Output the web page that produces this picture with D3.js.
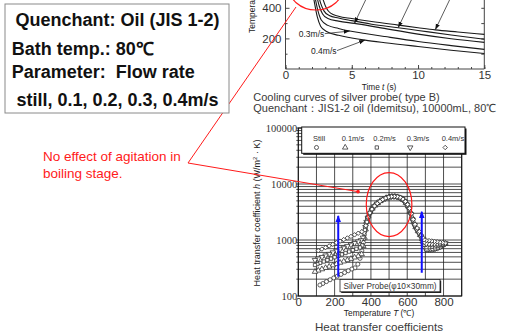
<!DOCTYPE html>
<html><head><meta charset="utf-8">
<script src="https://cdn.jsdelivr.net/npm/d3@7"></script>
<style>
body{margin:0;background:#fff;}
svg{display:block;font-family:"Liberation Sans",Arial,sans-serif;}
</style></head><body>
<svg id="c" width="519" height="333"></svg>
<script>
// ---------- DATA ----------
const flowRates = ["Still", "0.1m/s", "0.2m/s", "0.3m/s", "0.4m/s"];
const timeTicks = [0, 5, 10, 15];
const tempTicksTop = [200, 400];
const tempTicksBottom = [0, 200, 400, 600, 800];
const htcTicks = [100, 1000, 10000, 100000];

// cooling curves [time s, temperature C]
const coolStill = [[0,845],[1,838],[1.7,790],[2.2,680],[2.55,550],[2.85,450],[3.1,395],[3.4,365],[4,345],[5,330],[6.5,310],[8.5,287],[10,270],[11.3,256],[13,242],[15,226]];
const cool01 = [[0,845],[1,835],[1.6,780],[2.05,660],[2.4,520],[2.65,430],[2.9,380],[3.3,350],[4,333],[5,316],[6.5,293],[8.5,270],[10,252],[12.5,222],[15,194]];
const cool02 = [[0,845],[1,830],[1.5,770],[1.95,640],[2.3,500],[2.55,410],[2.8,360],[3.2,330],[4,313],[5.2,298],[7,272],[10,228],[12.5,198],[15,174]];
const cool03 = [[0,845],[1,825],[1.45,760],[1.9,620],[2.2,480],[2.45,380],[2.7,320],[3.2,285],[4,265],[4.85,248],[6,232],[7.5,212],[10,180],[12.5,153],[15,128]];
const cool04 = [[0,845],[1,820],[1.4,750],[1.85,600],[2.15,450],[2.4,340],[2.65,280],[3.1,245],[4,220],[5,203],[6,189],[7.5,172],[10,147],[12.5,123],[15,101]];

// heat transfer coefficient [temperature C, h W/m2K]
const htcStill = [[810,860],[795,790],[780,735],[765,700],[750,675],[735,660],[722,655],[710,660],[700,720],[690,880],
 [680,1080],[668,1280],[655,1520],[642,1800],[631,2250],[621,2900],[611,3650],[600,4350],[587,4950],[572,5450],[556,5780],[540,5950],[524,6000],[508,5930],[492,5760],[476,5500],[460,5150],[444,4750],[429,4380],[415,3950],[402,3420],[391,2900],[382,2450],
 [374,2000],[369,1650],[364,1250],[358,900],[350,640],[340,470],[328,370],[312,318],[295,303],[275,282],[255,262],[235,243],[215,226],[195,210],[175,195],[155,181],[135,167],[119,157]];
const htc01 = [[810,865],[795,815],[780,770],[765,735],[750,705],[735,685],[720,675],[708,680],[697,760],[688,930],
 [682,1040],[671,1230],[659,1440],[646,1700],[635,2080],[625,2620],[615,3300],[604,4000],[592,4620],[578,5200],[563,5600],[548,5850],[532,5980],[516,5970],[500,5860],[484,5640],[468,5330],[452,4960],[437,4560],[422,4120],[408,3640],[396,3150],[385,2650],
 [377,2150],[371,1550],[365,1100],[358,780],[349,560],[330,514],[310,488],[290,462],[270,438],[250,415],[230,394],[210,373],[190,354],[170,335],[150,318],[130,301],[110,285],[92,271]];
const htc02 = [[810,870],[795,840],[780,815],[765,790],[750,770],[735,755],[720,745],[706,745],[695,820],[687,980],
 [684,1000],[674,1180],[662,1380],[650,1600],[638,1930],[628,2400],[618,3050],[608,3750],[596,4400],[583,5000],[568,5480],[552,5800],[536,5960],[520,5990],[504,5900],[488,5700],[472,5420],[456,5060],[441,4680],[426,4250],[412,3800],[400,3300],[389,2800],[380,2350],
 [373,1950],[367,1450],[360,1050],[352,800],[340,735],[320,697],[300,658],[280,621],[260,586],[240,553],[220,521],[200,492],[180,464],[160,438],[140,413],[120,390],[105,372],[92,358]];
const htc03 = [[810,875],[795,870],[780,865],[765,860],[750,855],[735,850],[720,850],[705,860],[694,920],[686,1050],
 [676,1150],[664,1350],[652,1560],[640,1850],[630,2300],[620,2900],[610,3600],[599,4250],[587,4850],[573,5380],[558,5730],[543,5920],[527,6000],[511,5950],[495,5800],[479,5560],[463,5230],[448,4850],[433,4450],[418,4000],[405,3500],[393,2980],[383,2500],
 [376,2100],[370,1700],[363,1350],[356,1100],[345,990],[330,938],[310,880],[290,826],[270,775],[250,727],[230,682],[210,640],[190,600],[170,563],[150,528],[130,496],[110,465],[92,439]];
const htc04 = [[810,880],[795,900],[780,915],[765,930],[750,945],[735,960],[720,975],[705,990],[693,1010],[685,1100],
 [678,1220],[667,1420],[655,1630],[643,1900],[633,2330],[623,2950],[613,3680],[602,4300],[590,4880],[576,5400],[561,5750],[545,5940],[529,6000],[513,5960],[497,5820],[481,5590],[465,5260],[450,4880],[435,4480],[420,4050],[406,3560],[394,3050],[384,2560],
 [378,2100],[372,1800],[367,1508],[350,1410],[330,1320],[310,1237],[290,1159],[270,1086],[250,1017],[230,953],[210,893],[190,837],[170,784],[150,734],[130,688],[110,644]];

// annotation values
const coolArrowPoints = [[0, 11.3], [1, 8.5], [2, 5.2], [3, 4.85], [4, 6]]; // [series, time]
const agitationArrows = [[220, 221, 2700], [680, 260, 3200]];              // [T, h from, h to]

// ---------- DRAW ----------
const svg = d3.select("#c");
const defs = svg.append("defs");
defs.append("marker").attr("id","ahk").attr("viewBox","0 0 10 10").attr("refX",10).attr("refY",5)
  .attr("markerUnits","userSpaceOnUse").attr("markerWidth",6).attr("markerHeight",6).attr("orient","auto")
  .append("path").attr("d","M0,1.5L10,5L0,8.5Z").attr("fill","#111");
defs.append("marker").attr("id","ahb").attr("viewBox","0 0 10 10").attr("refX",9).attr("refY",5)
  .attr("markerUnits","userSpaceOnUse").attr("markerWidth",7).attr("markerHeight",7).attr("orient","auto")
  .append("path").attr("d","M0,1L10,5L0,9Z").attr("fill","#1010ff");

const coolSeries = [coolStill, cool01, cool02, cool03, cool04];
const htcSeries = [htcStill, htc01, htc02, htc03, htc04];

// ===== top chart =====
const xT = d3.scaleLinear().domain([0, 15]).range([285.5, 484.3]);
const yT = d3.scaleLinear().domain([0, 900]).range([69, 69 - 900 * 0.153]);
const gT = svg.append("g");
const axisCol = "#444";

// frame
gT.append("path").attr("d", `M${xT(0)},${yT(900)}V${yT(0)}H${xT(15)}V${yT(900)}`)
  .attr("fill","none").attr("stroke",axisCol).attr("stroke-width",1);

function styleAxis(g, fs, ff) {
  g.select(".domain").remove();
  g.selectAll(".tick line").attr("stroke", axisCol);
  g.selectAll(".tick text").attr("fill", "#333").attr("font-size", fs).attr("font-family", ff || "Liberation Sans, Arial, sans-serif");
}
gT.append("g").attr("transform",`translate(0,${yT(0)})`)
  .call(d3.axisBottom(xT).tickValues(timeTicks).tickSizeInner(-4).tickSizeOuter(0).tickPadding(2).tickFormat(d3.format("d")))
  .call(g => styleAxis(g, 11.5));
gT.append("g").attr("transform",`translate(0,${yT(0)})`)
  .call(d3.axisBottom(xT).tickValues(d3.range(0,16)).tickSizeInner(-2).tickSizeOuter(0).tickFormat(""))
  .call(g => styleAxis(g, 0));
gT.append("g").attr("transform",`translate(${xT(0)},0)`)
  .call(d3.axisLeft(yT).tickValues(tempTicksTop).tickSizeInner(-4).tickSizeOuter(0).tickPadding(4))
  .call(g => styleAxis(g, 11.5));
gT.append("g").attr("transform",`translate(${xT(0)},0)`)
  .call(d3.axisLeft(yT).tickValues([100,300,500]).tickSizeInner(-2).tickSizeOuter(0).tickFormat(""))
  .call(g => styleAxis(g, 0));
gT.append("g").attr("transform",`translate(${xT(15)},0)`)
  .call(d3.axisRight(yT).tickValues([100,200,300,400,500]).tickSizeInner(-3).tickSizeOuter(0).tickFormat(""))
  .call(g => styleAxis(g, 0));

const lineT = d3.line().x(d => xT(d[0])).y(d => yT(d[1])).curve(d3.curveMonotoneX);
gT.selectAll("path.cool").data(coolSeries).join("path").attr("class","cool")
  .attr("d", lineT).attr("fill","none").attr("stroke","#1a1a1a").attr("stroke-width",1.1);

// arrows to curves
coolArrowPoints.forEach(([s, t], i) => {
  const p = coolSeries[s].find(d => d[0] === t);
  const tx = xT(p[0]), ty = yT(p[1]);
  let sx, sy;
  if (i < 3) { sx = tx + 22; sy = ty - 46; }
  else if (i === 3) { sx = tx - 25; sy = ty + 2.6; }
  else { sx = tx - 28; sy = ty + 10.5; }
  gT.append("line").attr("x1",sx).attr("y1",sy).attr("x2",tx).attr("y2",ty)
    .attr("stroke","#333").attr("stroke-width",0.8).attr("marker-end","url(#ahk)");
  if (i >= 3) {
    gT.append("text").attr("x", sx - 0.5).attr("y", sy).attr("dy","0.35em").attr("text-anchor","end")
      .attr("font-size",8.5).attr("fill","#222").text(flowRates[s]);
  }
});

// axis labels of top chart
const tl = gT.append("text").attr("x", 379).attr("y", 86.8).attr("dy","0.35em").attr("text-anchor","middle")
  .attr("font-size", 8.3).attr("fill","#222");
tl.append("tspan").text("Time ");
tl.append("tspan").attr("font-style","italic").text("t");
tl.append("tspan").text(" (s)");
gT.append("text").attr("transform","translate(254.5,33) rotate(-90)").attr("font-size",8.5).attr("fill","#222")
  .text("Temperature T (℃)");

// caption
svg.append("text").attr("x",253.3).attr("y",97.6).attr("dy","0.35em").attr("font-size",11).attr("fill","#3a3a3a")
  .text("Cooling curves of silver probe( type B)");
svg.append("text").attr("x",253.3).attr("y",108.5).attr("dy","0.35em").attr("font-size",11).attr("fill","#3a3a3a")
  .text("Quenchant：JIS1-2 oil (Idemitsu), 10000mL, 80℃");

// ===== bottom chart =====
const xH = d3.scaleLinear().domain([0, 900]).range([298.3, 461.7]);
const yH = d3.scaleLog().domain([100, 100000]).range([296, 128]);
const gH = svg.append("g");

// grid
gH.selectAll("line.hg").data(yH.ticks()).join("line").attr("class","hg")
  .attr("x1", xH(0) - 2).attr("x2", xH(900)).attr("y1", d => yH(d)).attr("y2", d => yH(d))
  .attr("stroke","#222").attr("stroke-width",0.8);
gH.selectAll("line.vg").data(d3.range(0, 901, 100)).join("line").attr("class","vg")
  .attr("x1", d => xH(d)).attr("x2", d => xH(d)).attr("y1", yH(100)).attr("y2", yH(100000))
  .attr("stroke","#222").attr("stroke-width",0.8);
gH.append("rect").attr("x", xH(0)).attr("y", yH(100000)).attr("width", xH(900)-xH(0)).attr("height", yH(100)-yH(100000))
  .attr("fill","none").attr("stroke","#111").attr("stroke-width",1);

// ticks labels
gH.append("g").attr("transform",`translate(${xH(0)},0)`)
  .call(d3.axisLeft(yH).tickValues(htcTicks).tickSize(0).tickPadding(1).tickFormat(d3.format("d")))
  .call(g => styleAxis(g, 10.5, "Liberation Serif, Times New Roman, serif"));
gH.append("g").attr("transform",`translate(0,${yH(100)})`)
  .call(d3.axisBottom(xH).tickValues(tempTicksBottom).tickSize(0).tickPadding(1.5).tickFormat(d3.format("d")))
  .call(g => styleAxis(g, 11.5));

// markers
const shapes = [d3.symbolCircle, d3.symbolTriangle, d3.symbolSquare, d3.symbolTriangle, d3.symbolSquare];
const rot = [0, 0, 0, 180, 45];
const sizes = [13, 13, 11, 13, 10];
function mark(sel, i) {
  sel.attr("d", d3.symbol().type(shapes[i]).size(sizes[i])())
    .attr("fill","#fff").attr("stroke","#2a2a2a").attr("stroke-width",0.75);
}
htcSeries.forEach((ser, i) => {
  gH.append("g").selectAll("path").data(ser).join("path")
    .attr("transform", d => `translate(${xH(d[0])},${yH(d[1])}) rotate(${rot[i]})`)
    .call(mark, i);
});

// legend box
const lg = gH.append("g");
lg.append("rect").attr("x",303.2).attr("y",128.5).attr("width",163.3).attr("height",26.3).attr("fill","#111");
lg.append("rect").attr("x",301.7).attr("y",127).attr("width",163.3).attr("height",26.3).attr("fill","#fff").attr("stroke","#111").attr("stroke-width",1);
const legX = [313, 341.7, 373.3, 406.7, 441.7];
flowRates.forEach((f, i) => {
  lg.append("text").attr("x", legX[i]).attr("y", 138.5).attr("dy","0.35em").attr("font-size",7.5).attr("fill","#333").text(f);
  lg.append("path").attr("transform", `translate(${legX[i] + 3.5},${147.5}) rotate(${rot[i]})`).call(mark, i);
});

// silver probe box
gH.append("rect").attr("x",341.2).attr("y",280.6).attr("width",100).attr("height",12.4).attr("fill","#222");
gH.append("rect").attr("x",340).attr("y",279.4).attr("width",100).attr("height",12.4).attr("fill","#fff").attr("stroke","#222").attr("stroke-width",0.8);
gH.append("text").attr("x",390).attr("y",285.6).attr("dy","0.35em").attr("text-anchor","middle").attr("font-size",8.3).attr("fill","#333")
  .text("Silver Probe(φ10×30mm)");

// blue arrows
agitationArrows.forEach(([T, h0, h1]) => {
  gH.append("line").attr("x1", xH(T)).attr("x2", xH(T)).attr("y1", yH(h0)).attr("y2", yH(h1))
    .attr("stroke","#1010ff").attr("stroke-width",2).attr("marker-end","url(#ahb)");
});

// axis labels
const xl = gH.append("text").attr("x",379).attr("y",312.6).attr("dy","0.35em").attr("text-anchor","middle").attr("font-size",8.4).attr("fill","#222");
xl.append("tspan").text("Temperature ");
xl.append("tspan").attr("font-style","italic").text("T");
xl.append("tspan").text(" (℃)");
const yl = gH.append("text").attr("transform","translate(256.5,213) rotate(-90)").attr("dy","0.35em").attr("text-anchor","middle").attr("font-size",9).attr("fill","#222");
yl.append("tspan").text("Heat transfer coefficient ");
yl.append("tspan").attr("font-style","italic").text("h");
yl.append("tspan").text(" (W/m");
yl.append("tspan").attr("font-size",6).attr("dy","-3").text("2");
yl.append("tspan").attr("dy","3").text(" · K)");
gH.append("text").attr("x",379).attr("y",327.3).attr("dy","0.35em").attr("text-anchor","middle").attr("font-size",11.6).attr("fill","#3a3a3a")
  .text("Heat transfer coefficients");

// ===== annotations =====
const red = "#ff1a1a";
svg.append("ellipse").attr("cx", xH(500)).attr("cy", yH(4300)).attr("rx",22.8).attr("ry",32)
  .attr("fill","none").attr("stroke",red).attr("stroke-width",1.2);
svg.append("ellipse").attr("cx", xT(2.3)).attr("cy", yT(549)).attr("rx",28).attr("ry",25)
  .attr("fill","none").attr("stroke",red).attr("stroke-width",1.2);
const dotX = xH(329), dotY = yH(7300);
svg.append("path").attr("d", `M296,7L188,163L${dotX},${dotY}`).attr("fill","none").attr("stroke",red).attr("stroke-width",1);
svg.append("circle").attr("cx",dotX).attr("cy",dotY).attr("r",1.8).attr("fill",red);
svg.append("text").attr("x",43).attr("y",156.7).attr("dy","0.35em").attr("font-size",13.5).attr("fill",red).text("No effect of agitation in");
svg.append("text").attr("x",43).attr("y",173.3).attr("dy","0.35em").attr("font-size",13.5).attr("fill",red).text("boiling stage.");

// top-left box
svg.append("rect").attr("x",5).attr("y",4).attr("width",224).attr("height",109).attr("fill","#fff").attr("stroke","#8a8a8a").attr("stroke-width",1);
const boxText = [["Quenchant: Oil (JIS 1-2)", 117.5, 20, "middle"], ["Bath temp.: 80℃", 11.7, 48.3, "start"],
  ["Parameter:  Flow rate", 11.7, 71.7, "start"], ["still, 0.1, 0.2, 0.3, 0.4m/s", 117.5, 99.3, "middle"]];
boxText.forEach(([t, x, y, a]) => {
  svg.append("text").attr("x",x).attr("y",y).attr("dy","0.35em").attr("text-anchor",a).attr("font-size",18)
    .attr("font-weight","bold").attr("fill","#111").style("white-space","pre").text(t);
});
</script>
</body></html>
